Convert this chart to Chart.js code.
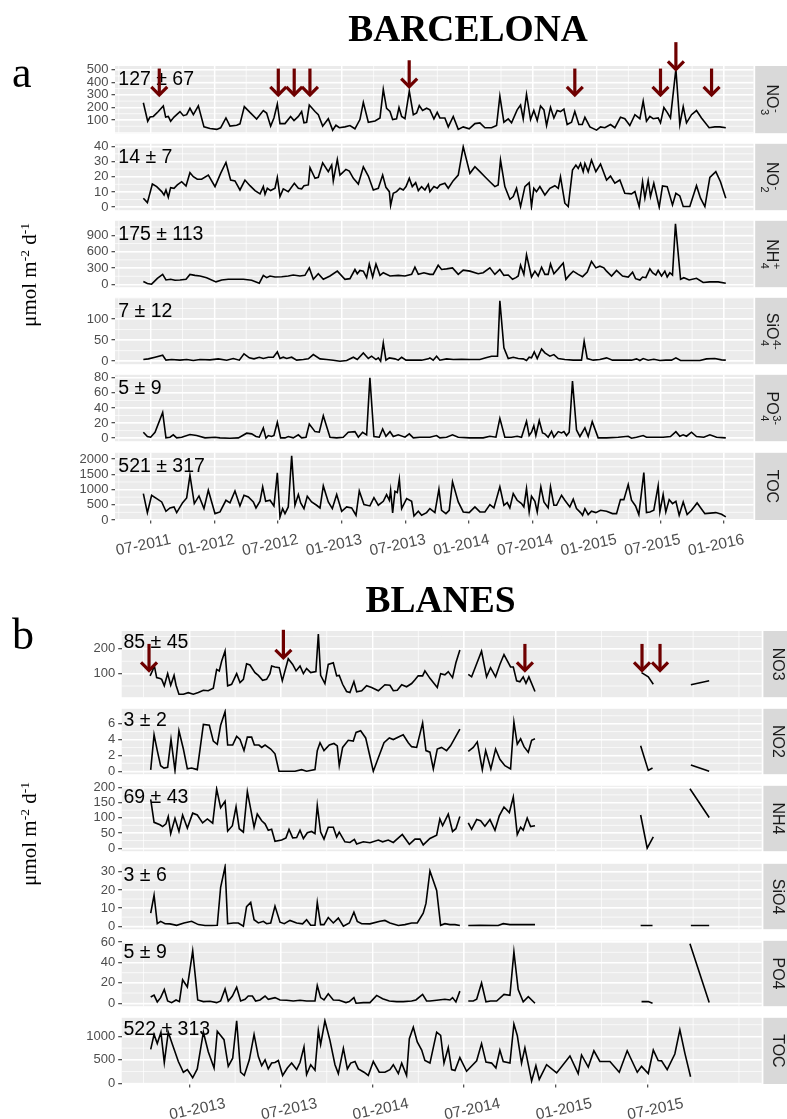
<!DOCTYPE html>
<html>
<head>
<meta charset="utf-8">
<script src="https://cdn.jsdelivr.net/npm/chart.js@4.4.0/dist/chart.umd.min.js"></script>
<style>
  body { margin: 0; background: #fff; width: 787px; height: 1119px; position: relative; overflow: hidden; }
  .panel { position: absolute; left: 0; width: 787px; }
  .panel canvas { display: block; }
  .title { position: absolute; transform: translateX(-50%); font: bold 37.5px/1 'Liberation Serif', 'Times New Roman', serif; color: #000; white-space: nowrap; }
  .tag { position: absolute; font: 44px/1 'Liberation Serif', 'Times New Roman', serif; color: #000; }
  .ytitle { position: absolute; transform: translate(-50%, -50%) rotate(-90deg); font: 21px/1 'Liberation Serif', 'Times New Roman', serif; color: #000; white-space: nowrap; }
  .ytitle sup { font-size: 13.5px; vertical-align: 7px; line-height: 0; }
</style>
</head>
<body>
<script>
// Weekly/biweekly nutrient deposition fluxes, umol m-2 d-1
// x values are months counted from January 2011 (6 = July 2011)

const FONT = "'Liberation Sans', Arial, Helvetica, sans-serif";

const bcnMonthTicks = [6, 12, 18, 24, 30, 36, 42, 48, 54, 60];
const bcnMonthLabels = ['07-2011', '01-2012', '07-2012', '01-2013', '07-2013', '01-2014', '07-2014', '01-2015', '07-2015', '01-2016'];
const blnMonthTicks = [24, 30, 36, 42, 48, 54];
const blnMonthLabels = ['01-2013', '07-2013', '01-2014', '07-2014', '01-2015', '07-2015'];

// ---- Barcelona ----
const bcnNo3 = [
  [5.31,237],[5.72,90],[5.94,123],[6.25,128],[6.72,167],[7.19,212],[7.41,123],[7.66,128],[7.88,90],[8.20,123],
  [8.76,167],[9.08,134],[9.39,142],[9.70,193],[10.02,142],[10.49,212],[11.02,45],[11.59,32],[12.22,25],[12.59,38],
  [13.09,116],[13.47,51],[14.10,58],[14.41,69],[14.82,206],[15.35,160],[15.98,108],[16.61,175],[16.92,155],[17.30,51],
  [17.61,116],[17.93,227],[18.18,71],[18.65,71],[19.18,128],[19.50,95],[19.91,128],[20.22,167],[20.44,77],[20.69,82],
  [20.94,219],[21.48,167],[21.79,142],[22.20,51],[22.73,110],[23.14,19],[23.45,58],[23.77,38],[24.30,45],[24.77,56],
  [25.24,30],[25.71,103],[26.03,240],[26.50,82],[27.13,92],[27.60,116],[27.91,344],[28.22,193],[28.54,167],[28.79,103],
  [29.16,110],[29.39,199],[29.64,128],[29.95,110],[30.36,329],[30.74,142],[31.05,155],[31.30,214],[31.61,175],[31.99,193],
  [32.30,180],[32.68,108],[32.99,160],[33.24,116],[33.71,116],[34.03,45],[34.50,128],[34.97,25],[35.44,45],[36.00,30],
  [36.54,71],[37.01,77],[37.48,38],[38.11,38],[38.58,56],[38.89,290],[39.27,82],[39.68,108],[39.99,77],[40.52,180],
  [40.84,219],[41.09,108],[41.40,305],[41.78,103],[42.09,175],[42.41,95],[42.72,212],[43.04,180],[43.29,56],[43.66,201],
  [43.98,116],[44.29,175],[44.60,167],[44.92,186],[45.23,64],[45.64,82],[45.95,167],[46.33,64],[46.65,64],[46.90,121],
  [47.37,45],[48.00,19],[48.37,45],[48.78,38],[49.31,64],[49.72,38],[50.25,121],[50.66,110],[51.13,56],[51.61,142],
  [52.08,110],[52.39,250],[52.70,90],[53.02,128],[53.33,110],[53.80,116],[54.02,77],[54.34,199],[54.65,160],[54.96,116],
  [55.47,505],[55.84,64],[56.16,206],[56.47,77],[56.94,142],[57.41,175],[57.88,116],[58.60,38],[59.14,45],[59.61,45],[60.17,38]
];
const bcnNo2 = [
  [5.31,5.9],[5.69,3.0],[6.16,15.2],[6.57,13.5],[7.04,10.2],[7.26,8.0],[7.44,11.3],[7.66,6.5],[7.88,12.8],[8.20,12.4],
  [8.51,14.6],[8.92,16.7],[9.33,13.9],[9.70,22.6],[10.02,20.0],[10.39,18.3],[10.80,18.3],[11.43,21.1],[12.06,13.5],[12.59,22.2],
  [13.09,29.3],[13.53,17.8],[13.94,17.2],[14.41,11.3],[14.88,17.8],[15.35,14.1],[15.83,10.9],[16.30,8.7],[16.61,13.5],[16.77,8.5],
  [16.99,12.4],[17.30,10.9],[17.71,12.4],[17.93,19.6],[18.18,7.0],[18.49,12.0],[18.96,10.2],[19.53,15.7],[19.91,12.4],[20.22,12.0],
  [20.44,14.1],[20.85,14.6],[21.01,25.9],[21.48,18.9],[21.79,19.6],[22.20,29.1],[22.73,23.3],[23.05,27.6],[23.20,17.2],[23.58,31.3],
  [23.83,21.1],[24.39,24.8],[24.71,23.7],[25.09,18.9],[25.56,15.2],[26.03,26.5],[26.50,20.4],[26.97,11.3],[27.44,12.4],[27.85,21.1],
  [28.16,13.0],[28.48,10.2],[28.60,1.1],[28.85,9.1],[29.16,10.2],[29.48,12.4],[29.79,11.3],[30.05,13.5],[30.36,18.9],[30.64,13.5],
  [30.96,16.1],[31.21,10.9],[31.52,13.5],[31.83,11.3],[32.15,15.0],[32.30,10.2],[32.68,13.5],[32.99,12.4],[33.24,14.6],[33.71,15.7],
  [34.03,12.4],[34.50,17.4],[34.97,21.1],[35.44,39.6],[36.07,22.2],[36.54,26.5],[37.01,23.3],[37.48,20.0],[37.95,16.7],[38.42,13.5],
  [38.73,14.6],[38.95,30.9],[39.36,13.5],[39.83,5.2],[40.15,7.0],[40.46,12.4],[40.84,0.4],[41.25,13.5],[41.65,16.1],[41.87,0.4],
  [42.09,12.4],[42.34,10.2],[42.66,13.5],[43.13,8.0],[43.60,12.4],[44.07,14.1],[44.39,12.4],[44.60,20.0],[45.01,2.6],[45.33,0.4],
  [45.73,24.3],[46.05,27.6],[46.27,25.4],[46.49,28.7],[46.74,23.3],[46.90,28.7],[47.21,23.3],[47.52,30.9],[47.93,23.3],[48.37,28.3],
  [48.94,17.8],[49.31,20.4],[49.72,15.7],[50.19,17.8],[50.66,9.1],[51.29,8.7],[51.61,10.2],[52.01,0.4],[52.33,16.7],[52.55,5.9],
  [52.86,17.4],[53.08,7.0],[53.39,15.7],[53.90,0],[54.21,13.9],[54.65,13.5],[55.15,1.5],[55.47,9.1],[55.84,7.4],[56.16,0.4],
  [56.78,0.4],[57.41,14.1],[57.79,5.9],[58.20,0.4],[58.67,19.6],[59.23,23.3],[59.67,16.7],[60.17,5.9]
];
const bcnNh4 = [
  [5.31,54],[5.69,18],[6.09,6],[6.63,113],[7.13,185],[7.44,83],[7.88,95],[8.29,77],[8.76,83],[9.33,95],
  [9.70,185],[10.17,167],[10.65,155],[11.27,125],[12.15,48],[12.69,83],[13.31,95],[13.94,95],[14.73,95],[15.51,77],
  [16.23,24],[16.61,167],[16.92,125],[17.24,155],[17.71,137],[18.34,143],[18.96,155],[19.43,173],[20.06,155],[20.53,167],
  [20.94,304],[21.32,95],[21.79,197],[22.26,95],[22.89,155],[23.58,244],[24.30,95],[24.77,107],[25.24,274],[25.46,197],
  [25.71,256],[26.03,244],[26.34,125],[26.59,375],[26.91,137],[27.22,375],[27.60,167],[27.91,215],[28.54,155],[29.32,167],
  [29.95,155],[30.58,185],[30.89,316],[31.21,185],[31.74,215],[32.30,185],[32.61,185],[33.08,352],[33.40,274],[33.87,286],
  [34.43,304],[34.97,185],[35.44,262],[36.07,244],[36.85,197],[37.32,215],[37.95,304],[38.42,185],[38.89,274],[39.27,167],
  [39.68,173],[40.08,95],[40.40,125],[40.62,155],[40.84,352],[41.15,185],[41.40,542],[41.87,137],[42.19,244],[42.50,155],
  [42.82,316],[43.13,185],[43.44,185],[43.66,375],[43.98,197],[44.39,286],[44.86,393],[45.11,95],[45.42,167],[45.80,244],
  [46.27,185],[46.68,143],[47.12,226],[47.52,423],[47.93,304],[48.31,334],[48.69,304],[48.94,244],[49.41,155],[49.88,256],
  [50.44,155],[50.98,137],[51.39,226],[51.67,107],[52.08,83],[52.33,137],[52.64,125],[53.02,286],[53.27,215],[53.58,173],
  [53.80,256],[54.12,155],[54.43,244],[54.65,137],[54.90,215],[55.15,173],[55.43,1109],[55.91,95],[56.22,125],[56.72,83],
  [57.41,113],[58.04,36],[58.67,48],[59.45,48],[60.17,24]
];
const bcnSio4 = [
  [5.31,3.9],[5.78,5.5],[6.41,9.4],[7.13,14.2],[7.44,2.4],[7.98,3.9],[8.76,2.4],[9.39,3.9],[10.02,1.6],[10.65,3.9],
  [11.59,3.1],[12.37,5.5],[13.16,2.4],[13.78,6.3],[14.35,2.4],[14.79,17.3],[15.29,7.9],[15.73,5.5],[16.23,9.4],[16.61,6.3],
  [17.08,9.4],[17.55,9.4],[17.93,22.0],[18.18,6.3],[18.49,9.4],[18.81,6.3],[19.28,9.4],[19.75,2.4],[20.38,3.9],[20.85,5.5],
  [21.32,15.7],[21.95,5.5],[22.57,3.9],[23.20,2.4],[23.83,0],[24.46,1.6],[25.09,9.4],[25.46,3.9],[26.03,19.7],[26.50,6.3],
  [26.81,11.8],[27.22,3.9],[27.44,7.9],[27.66,0],[27.91,43.3],[28.16,2.4],[28.48,7.9],[29.01,5.5],[29.32,2.4],[29.64,9.4],
  [30.05,2.4],[30.74,2.4],[31.52,2.4],[32.15,5.5],[32.30,7.9],[32.61,2.4],[32.93,11.8],[33.24,2.4],[33.87,5.5],[34.50,3.9],
  [35.28,4.7],[36.07,3.9],[37.01,3.9],[37.57,7.9],[38.11,11.8],[38.67,11.8],[38.89,143.2],[39.27,31.5],[39.68,6.3],[40.15,9.4],
  [40.62,6.3],[41.09,5.5],[41.40,1.6],[41.65,9.4],[41.87,7.9],[42.13,22.0],[42.41,6.3],[42.82,29.1],[43.13,19.7],[43.60,11.8],
  [43.98,15.7],[44.39,6.3],[45.01,3.9],[45.80,2.4],[46.58,2.4],[46.83,47.2],[47.12,6.3],[47.68,2.4],[48.31,3.9],[48.94,7.9],
  [49.50,2.4],[50.35,2.4],[51.29,2.4],[51.76,5.5],[52.08,1.6],[52.39,6.3],[52.86,2.4],[53.39,4.7],[53.96,1.6],[54.52,2.4],
  [55.06,2.4],[55.47,7.9],[55.91,1.6],[56.78,1.6],[57.73,1.6],[58.35,5.5],[59.14,6.3],[59.77,3.1],[60.17,2.4]
];
const bcnPo4 = [
  [5.31,7.9],[5.69,2.2],[6.00,1.3],[6.41,7.9],[7.13,34.1],[7.44,0.4],[7.82,1.3],[8.13,4.4],[8.45,0.4],[8.92,1.3],
  [9.70,4.8],[10.33,3.5],[11.12,0.4],[12.06,1.3],[12.53,0.4],[13.47,0],[14.26,0.4],[15.04,6.6],[15.51,5.7],[15.92,2.2],
  [16.23,1.3],[16.61,13.6],[16.86,0],[17.08,3.5],[17.39,2.2],[17.61,3.5],[17.93,21.0],[18.24,0.4],[18.65,0.4],[18.96,2.2],
  [19.43,0.4],[19.91,4.4],[20.22,0.4],[20.63,1.3],[20.94,18.8],[21.48,8.7],[21.88,7.9],[22.26,29.7],[22.89,1.3],[23.52,0.4],
  [24.14,1.3],[24.61,7.9],[25.24,8.7],[25.56,1.3],[25.96,7.9],[26.34,4.4],[26.65,80],[27.03,2.2],[27.53,1.3],[27.85,12.2],
  [28.16,2.6],[28.54,8.7],[28.85,2.2],[29.32,4.4],[29.95,1.3],[30.36,5.7],[30.74,0.4],[31.36,1.3],[32.30,1.3],[32.93,3.5],
  [33.24,0.4],[33.87,1.3],[34.43,4.4],[34.97,1.3],[36.07,0.4],[37.32,0.4],[37.95,2.6],[38.52,1.3],[38.89,26.2],[39.36,1.3],
  [39.99,1.3],[40.52,2.6],[40.93,1.3],[41.40,22.3],[41.65,3.5],[41.87,7.9],[42.09,16.6],[42.28,3.5],[42.60,23.2],[42.91,7.0],
  [43.13,5.7],[43.44,1.3],[43.76,9.2],[43.98,1.3],[44.39,8.7],[44.70,7.0],[44.92,8.7],[45.17,3.5],[45.42,7.9],[45.73,75.6],
  [46.11,10.9],[46.43,2.2],[46.90,13.6],[47.21,2.2],[47.59,21.9],[48.15,0.4],[48.94,0.4],[50.04,1.3],[50.98,2.6],[51.29,0],
  [51.76,1.3],[52.39,3.5],[52.70,1.3],[53.33,1.3],[54.27,1.3],[54.96,2.2],[55.47,8.7],[55.84,2.6],[56.16,4.4],[56.47,2.6],
  [56.94,7.9],[57.41,2.2],[58.10,1.3],[58.67,4.4],[59.30,1.3],[60.17,0.4]
];
const bcnToc = [
  [5.31,868],[5.69,242],[6.09,813],[6.57,703],[7.04,593],[7.44,286],[7.82,396],[8.20,429],[8.45,242],[9.01,571],
  [9.39,725],[9.70,1473],[10.11,539],[10.55,791],[11.02,374],[11.43,978],[12.06,209],[12.53,264],[13.09,648],[13.47,561],
  [13.94,956],[14.41,462],[14.79,813],[15.20,758],[15.67,593],[15.92,396],[16.30,615],[16.55,1088],[16.83,615],[17.24,648],
  [17.61,462],[17.93,1550],[18.18,99],[18.43,374],[18.65,209],[18.96,429],[19.28,2110],[19.59,484],[19.91,835],[20.13,561],
  [20.44,374],[20.75,780],[21.16,593],[21.63,484],[21.95,396],[22.26,1121],[22.73,593],[23.11,374],[23.52,835],[23.99,286],
  [24.46,429],[24.93,396],[25.34,154],[25.65,956],[26.09,505],[26.65,462],[27.03,736],[27.44,484],[27.91,615],[28.22,835],
  [28.48,648],[28.60,978],[28.79,231],[29.01,945],[29.23,901],[29.42,1341],[29.64,374],[30.11,703],[30.58,615],[30.80,132],
  [31.21,286],[31.52,154],[31.99,242],[32.30,374],[32.77,242],[33.15,1011],[33.40,319],[33.81,209],[34.12,319],[34.43,1253],
  [34.97,593],[35.44,264],[36.00,242],[36.54,429],[37.01,264],[37.48,264],[37.95,505],[38.33,396],[38.89,1088],[39.27,484],
  [39.58,571],[39.83,396],[40.15,868],[40.52,648],[40.93,539],[41.15,429],[41.40,1033],[41.65,264],[41.87,780],[42.19,615],
  [42.41,264],[42.75,1088],[43.04,593],[43.44,396],[43.66,1088],[43.98,484],[44.23,484],[44.70,813],[45.01,648],[45.48,429],
  [45.80,681],[46.11,374],[46.49,242],[46.68,154],[46.90,374],[47.21,176],[47.52,286],[47.93,242],[48.37,319],[48.94,286],
  [49.50,209],[49.88,209],[50.25,670],[50.57,670],[50.98,1165],[51.29,648],[51.67,462],[51.98,176],[52.45,1561],[52.70,242],
  [53.02,264],[53.39,319],[53.80,1121],[53.96,264],[54.27,835],[54.52,264],[54.84,670],[55.15,539],[55.47,615],[55.78,154],
  [56.16,593],[56.53,176],[56.94,319],[57.47,561],[58.20,209],[59.23,242],[59.77,187],[60.17,99]
];

const bcnNo3Ticks = [100, 200, 300, 400, 500];
const bcnNo2Ticks = [0, 10, 20, 30, 40];
const bcnNh4Ticks = [0, 300, 600, 900];
const bcnSio4Ticks = [0, 50, 100];
const bcnPo4Ticks = [0, 20, 40, 60, 80];
const bcnTocTicks = [0, 500, 1000, 1500, 2000];

const bcnStats = ['127 \u00b1 67', '14 \u00b1 7', '175 \u00b1 113', '7 \u00b1 12', '5 \u00b1 9', '521 \u00b1 317'];
// [main, subscript, superscript]
const bcnStrips = [['NO', '3', '-'], ['NO', '2', '-'], ['NH', '4', '+'], ['SiO', '4', '4-'], ['PO', '4', '3-'], ['TOC', '', '']];
// [month, arrow start, arrow tip] in NO3 units
const bcnArrows = [
  [6.81, 509, 299], [18.02, 509, 299], [19.52, 509, 299], [21.0, 509, 299], [30.35, 575, 365],
  [45.95, 509, 299], [54.02, 509, 299], [55.47, 719, 502], [58.83, 509, 299]
];

// ---- Blanes (null = no sample) ----
const blnNo3 = [
  [21.43,91],[21.58,111],[21.71,131],[21.86,84],[22.08,80],[22.19,77],[22.36,51],[22.58,100],[22.78,53],[23.00,93],
  [23.13,53],[23.32,17],[23.61,17],[23.93,23],[24.26,17],[24.59,24],[24.92,33],[25.24,31],[25.57,41],[25.79,117],
  [25.96,111],[26.12,151],[26.34,191],[26.51,51],[26.77,57],[27.10,100],[27.32,64],[27.54,77],[27.75,140],[27.97,135],
  [28.30,104],[28.52,93],[28.80,73],[29.06,77],[29.28,100],[29.39,131],[29.61,127],[29.89,124],[30.09,71],[30.48,160],
  [30.77,137],[30.99,111],[31.25,131],[31.47,100],[31.68,121],[31.95,104],[32.29,108],[32.45,260],[32.60,93],[32.88,60],
  [33.10,137],[33.43,144],[33.65,91],[33.82,93],[34.04,57],[34.30,28],[34.52,24],[34.78,68],[34.96,27],[35.29,31],
  [35.61,51],[35.94,44],[36.38,31],[36.81,55],[37.14,53],[37.36,31],[37.62,33],[37.91,55],[38.23,47],[38.56,60],
  [38.78,75],[38.99,91],[39.28,91],[39.43,111],[39.76,81],[39.98,64],[40.24,44],[40.46,100],[40.74,95],[40.96,108],
  [41.24,84],[41.46,144],[41.72,195],[42.0,null],[42.27,97],[42.49,87],[42.82,140],[43.14,191],[43.47,87],[43.73,124],
  [44.06,87],[44.34,137],[44.61,177],[45.04,127],[45.22,127],[45.44,71],[45.65,67],[45.87,87],[46.05,61],[46.24,87],
  [46.64,28],[50.0,null],[53.62,104],[54.06,87],[54.39,57],[55.5,null],[56.85,55],[58.05,71]
];
const blnNo2 = [
  [21.47,0.17],[21.69,4.6],[21.90,2.6],[22.12,0.7],[22.34,0.4],[22.58,0.5],[22.80,4.0],[23.06,0.1],[23.32,5.1],[23.61,2.8],
  [23.87,0.3],[24.15,0.4],[24.52,0.2],[24.92,5.9],[25.31,5.8],[25.57,3.8],[25.83,3.4],[26.05,5.8],[26.34,7.5],[26.51,3.3],
  [26.84,3.3],[27.10,4.4],[27.32,4.0],[27.58,2.6],[27.80,4.3],[28.08,4.3],[28.26,3.3],[28.56,3.3],[28.74,3.0],[28.96,3.3],
  [29.33,2.8],[29.61,2.2],[29.87,0],[30.37,0],[30.92,0],[31.36,0.2],[31.68,0],[32.23,0.2],[32.38,2.6],[32.56,3.6],
  [32.82,2.6],[33.17,3.3],[33.47,3.5],[33.69,3.2],[33.82,0.7],[34.04,3.0],[34.41,3.9],[34.74,3.8],[34.92,4.9],[35.22,5.1],
  [35.55,4.2],[35.79,2.2],[36.05,0],[36.38,1.7],[36.75,3.6],[37.10,4.2],[37.36,4.0],[37.80,4.4],[38.01,4.6],[38.34,3.6],
  [38.56,3.1],[38.89,3.0],[39.28,6.1],[39.50,2.6],[39.76,2.4],[39.98,0.3],[40.24,2.8],[40.52,3.0],[40.85,2.6],[41.11,3.2],
  [41.40,4.2],[41.72,5.3],[42.0,null],[42.27,2.5],[42.60,3.0],[42.86,3.7],[43.19,0.2],[43.41,2.6],[43.75,0.3],[44.06,2.8],
  [44.34,1.5],[44.67,0.7],[45.04,0.3],[45.26,6.2],[45.48,3.4],[45.70,4.1],[45.92,3.1],[46.20,2.4],[46.42,3.9],[46.64,4.1],
  [50.0,null],[53.56,3.2],[54.06,0.1],[54.34,0.4],[55.5,null],[56.85,0.8],[58.05,0]
];
const blnNh4 = [
  [21.47,160],[21.69,85],[22.08,77],[22.25,71],[22.47,80],[22.62,104],[22.78,48],[23.06,98],[23.32,55],[23.56,109],
  [23.87,66],[24.22,115],[24.52,109],[24.87,83],[25.18,96],[25.53,82],[25.79,194],[26.05,133],[26.34,154],[26.51,56],
  [26.82,74],[27.06,136],[27.27,64],[27.54,53],[27.80,186],[28.02,128],[28.24,69],[28.45,112],[28.74,90],[28.96,80],
  [29.17,59],[29.39,62],[29.61,23],[30.05,27],[30.33,34],[30.53,62],[30.77,34],[31.03,35],[31.25,59],[31.47,32],
  [31.73,51],[32.01,55],[32.23,48],[32.38,140],[32.60,53],[32.82,30],[33.10,69],[33.43,69],[33.65,37],[33.82,53],
  [34.19,21],[34.52,19],[34.81,29],[34.96,14],[35.40,21],[35.83,18],[36.38,27],[36.66,21],[37.03,27],[37.36,19],
  [37.95,45],[38.41,13],[38.78,30],[39.11,30],[39.32,11],[39.76,32],[40.20,43],[40.41,96],[40.59,74],[40.96,112],
  [41.24,55],[41.46,64],[41.72,104],[42.0,null],[42.27,83],[42.49,62],[42.82,94],[43.08,90],[43.36,72],[43.69,94],
  [44.02,59],[44.30,106],[44.61,135],[44.96,117],[45.22,168],[45.48,45],[45.70,69],[45.87,59],[46.13,99],[46.35,71],
  [46.64,74],[50.0,null],[53.56,109],[53.99,0],[54.39,37],[55.5,null],[56.79,195],[58.05,101]
];
const blnSio4 = [
  [21.47,7.2],[21.69,17.1],[21.90,1.4],[22.12,2.7],[22.41,1.4],[22.73,1.3],[23.17,0.5],[23.65,1.8],[24.15,2.7],[24.59,0.9],
  [25.03,0.4],[25.46,0.4],[25.83,0.5],[26.05,21.5],[26.34,32.8],[26.51,1.4],[26.88,1.8],[27.21,1.8],[27.54,0],[27.75,10.8],
  [28.02,13.1],[28.24,3.6],[28.52,1.8],[28.85,2.7],[29.06,1.4],[29.33,1.8],[29.61,11.1],[29.94,2.2],[30.22,1.4],[30.59,3.2],
  [31.03,1.8],[31.42,1.3],[31.68,3.6],[31.95,0.5],[32.23,0.5],[32.38,13.1],[32.60,0.9],[32.82,0.9],[33.10,4.8],[33.43,1.8],
  [33.76,4.5],[34.09,0],[34.48,1.8],[34.78,7.7],[35.00,2.7],[35.29,1.4],[35.83,1.3],[36.49,2.7],[36.81,3.2],[37.14,1.8],
  [37.69,0.4],[38.12,0.9],[38.56,1.8],[38.93,1.8],[39.32,7.2],[39.50,12.6],[39.76,30.5],[40.20,19.7],[40.46,0.5],[40.74,1.4],
  [41.07,0.9],[41.40,0.9],[41.72,0.4],[42.0,null],[42.27,0.4],[43.03,0.5],[44.23,0.4],[44.56,1.4],[45.00,0.9],[45.87,0.9],
  [46.64,0.9],[50.0,null],[53.56,0.4],[54.34,0.4],[55.5,null],[56.85,0.4],[58.05,0.4]
];
const blnPo4 = [
  [21.47,6.1],[21.69,8.0],[21.90,1.3],[22.12,5.5],[22.36,13.5],[22.58,2.2],[22.84,0.6],[23.13,3.2],[23.35,1.6],[23.56,23.1],
  [23.87,16.0],[24.22,51.4],[24.55,3.2],[24.92,1.6],[25.35,1.9],[25.79,0.6],[26.05,2.2],[26.34,14.1],[26.55,2.2],[26.82,7.1],
  [27.10,15.7],[27.36,2.2],[27.65,3.9],[27.86,7.1],[28.13,7.1],[28.34,2.2],[28.63,3.2],[28.96,7.1],[29.17,3.9],[29.61,5.5],
  [29.94,3.2],[30.37,2.9],[30.81,2.2],[31.25,2.9],[31.68,2.2],[32.23,2.2],[32.38,17.3],[32.60,5.5],[32.82,3.2],[33.10,9.3],
  [33.43,3.2],[33.82,2.9],[34.26,0.6],[34.48,1.6],[34.78,5.5],[34.92,0],[35.40,0.6],[35.83,0.6],[36.27,7.7],[36.66,4.5],
  [37.10,2.2],[37.58,1.6],[38.01,1.6],[38.56,2.2],[38.84,3.2],[39.28,8.7],[39.54,2.2],[39.76,2.2],[40.20,2.9],[40.74,3.9],
  [41.07,3.2],[41.24,5.5],[41.46,1.3],[41.72,11.9],[42.0,null],[42.27,2.2],[42.60,2.2],[42.82,3.9],[43.14,19.9],[43.43,1.3],
  [43.73,2.2],[44.13,2.2],[44.61,8.7],[45.00,7.7],[45.26,50.4],[45.54,13.5],[45.87,1.3],[46.20,6.4],[46.64,0],[50.0,null],
  [53.62,1.6],[54.06,1.6],[54.34,0],[55.5,null],[56.79,58.4],[58.05,0.6]
];
const blnToc = [
  [21.47,722],[21.69,1042],[21.90,847],[22.14,1090],[22.36,444],[22.62,1090],[22.91,812],[23.28,465],[23.61,236],[23.87,292],
  [24.22,118],[24.52,306],[24.92,1090],[25.24,674],[25.62,326],[25.83,1111],[26.27,931],[26.55,361],[26.84,535],[27.10,1333],
  [27.36,236],[27.60,167],[27.93,500],[28.24,1042],[28.52,569],[28.74,375],[28.96,500],[29.17,306],[29.39,431],[29.61,444],
  [29.83,486],[30.11,167],[30.42,326],[30.70,431],[31.03,292],[31.25,444],[31.51,778],[31.68,188],[31.95,396],[32.23,278],
  [32.45,1125],[32.60,826],[32.88,1333],[33.21,917],[33.54,396],[33.76,208],[34.09,743],[34.35,306],[34.57,431],[34.85,465],
  [35.07,306],[35.44,236],[35.72,167],[36.05,465],[36.44,236],[36.81,236],[37.14,292],[37.36,396],[37.69,208],[37.91,431],
  [38.23,167],[38.41,951],[38.67,1194],[38.93,882],[39.22,708],[39.43,486],[39.76,431],[40.20,1090],[40.46,1021],[40.68,431],
  [40.96,764],[41.18,292],[41.40,271],[41.72,549],[42.16,257],[42.82,479],[43.14,847],[43.43,451],[43.80,431],[44.08,326],
  [44.34,708],[44.56,465],[45.00,431],[45.26,1264],[45.48,1021],[45.76,431],[45.98,757],[46.27,292],[46.42,49],[46.70,375],
  [46.92,83],[47.40,396],[48.06,222],[48.93,583],[49.47,208],[49.69,604],[50.13,347],[50.50,694],[50.89,465],[51.55,465],
  [52.16,236],[52.68,694],[53.34,236],[53.62,361],[54.06,208],[54.39,708],[54.71,486],[54.93,479],[55.30,292],[55.80,625],
  [56.13,1139],[56.46,639],[56.83,139]
];

const blnNo3Ticks = [100, 200];
const blnNo2Ticks = [0, 2, 4, 6];
const blnNh4Ticks = [0, 50, 100, 150, 200];
const blnSio4Ticks = [0, 10, 20, 30];
const blnPo4Ticks = [0, 20, 40, 60];
const blnTocTicks = [0, 500, 1000];

const blnStats = ['85 \u00b1 45', '3 \u00b1 2', '69 \u00b1 43', '3 \u00b1 6', '5 \u00b1 9', '522 \u00b1 313'];
const blnStrips = [['NO3'], ['NO2'], ['NH4'], ['SiO4'], ['PO4'], ['TOC']];
const blnArrows = [[21.36, 220, 113], [30.16, 277, 164], [45.98, 220, 113], [53.65, 220, 113], [54.83, 220, 113]];

// page layout of the two facet columns
const cities = [
  {
    left: 115, right: 753.5, top: 66, step: 77.1, h: 68, stripW: 32, statDx: 3.3, statDy: 19.3, labelShift: 20,
    xMin: 2.64, xMax: 62.78, xTicks: bcnMonthTicks, xLabels: bcnMonthLabels, arrows: bcnArrows,
    series: [bcnNo3, bcnNo2, bcnNh4, bcnSio4, bcnPo4, bcnToc],
    yTicks: [bcnNo3Ticks, bcnNo2Ticks, bcnNh4Ticks, bcnSio4Ticks, bcnPo4Ticks, bcnTocTicks],
    stats: bcnStats, strips: bcnStrips
  },
  {
    left: 121.7, right: 761.7, top: 631, step: 77.2, h: 67, stripW: 29, statDx: 1.8, statDy: 17.3, labelShift: 36,
    xMin: 19.57, xMax: 61.49, xTicks: blnMonthTicks, xLabels: blnMonthLabels, arrows: blnArrows,
    series: [blnNo3, blnNo2, blnNh4, blnSio4, blnPo4, blnToc],
    yTicks: [blnNo3Ticks, blnNo2Ticks, blnNh4Ticks, blnSio4Ticks, blnPo4Ticks, blnTocTicks],
    stats: blnStats, strips: blnStrips
  }
];

// ggplot-style minor breaks: halfway between majors, one step past each end
function minorBreaks(major, lo, hi) {
  const out = [];
  const d = major[1] - major[0];
  for (let v = major[0] - d; v <= major[major.length - 1] + d + 1e-9; v += d / 2) {
    if (v > lo && v < hi) out.push(v);
  }
  return out;
}

function drawArrow(ctx, x, y0, y1) {
  ctx.beginPath();
  ctx.moveTo(x, y0);
  ctx.lineTo(x, y1);
  ctx.stroke();
  ctx.beginPath();
  ctx.moveTo(x - 8, y1 - 8);
  ctx.lineTo(x, y1);
  ctx.lineTo(x + 8, y1 - 8);
  ctx.stroke();
}

function facetPlugin(city, i) {
  return {
    id: 'facet' + i,
    beforeDraw(chart) {
      const { ctx, chartArea: a, scales: { x, y } } = chart;
      ctx.save();
      ctx.fillStyle = '#EBEBEB';
      ctx.fillRect(a.left, a.top, a.right - a.left, a.bottom - a.top);
      ctx.strokeStyle = '#FFFFFF';
      ctx.lineWidth = 0.7;
      ctx.beginPath();
      minorBreaks(city.xTicks, x.min, x.max).forEach(v => {
        const p = x.getPixelForValue(v);
        ctx.moveTo(p, a.top); ctx.lineTo(p, a.bottom);
      });
      minorBreaks(city.yTicks[i], y.min, y.max).forEach(v => {
        const p = y.getPixelForValue(v);
        ctx.moveTo(a.left, p); ctx.lineTo(a.right, p);
      });
      ctx.stroke();
      ctx.restore();
    },
    afterDatasetsDraw(chart) {
      const { ctx, chartArea: a, scales: { x, y } } = chart;
      ctx.save();
      ctx.fillStyle = '#000';
      ctx.font = `19.5px ${FONT}`;
      ctx.textBaseline = 'alphabetic';
      ctx.fillText(city.stats[i], a.left + city.statDx, a.top + city.statDy);

      if (i === 0) {
        ctx.strokeStyle = '#6E0000';
        ctx.lineWidth = 3.2;
        ctx.lineJoin = 'miter';
        city.arrows.forEach(([m, from, to]) => {
          drawArrow(ctx, x.getPixelForValue(m), y.getPixelForValue(from), y.getPixelForValue(to));
        });
      }

      // facet strip on the right
      const sx = a.right + 1.7;
      ctx.fillStyle = '#D9D9D9';
      ctx.fillRect(sx, a.top, city.stripW, a.bottom - a.top);
      ctx.translate(sx + city.stripW / 2, (a.top + a.bottom) / 2);
      ctx.rotate(Math.PI / 2);
      ctx.fillStyle = '#1A1A1A';
      ctx.textBaseline = 'middle';
      const [main, sub, sup] = city.strips[i];
      ctx.font = `16px ${FONT}`;
      const mw = ctx.measureText(main).width;
      ctx.font = `11px ${FONT}`;
      const ew = Math.max(sub ? ctx.measureText(sub).width : 0, sup ? ctx.measureText(sup).width : 0);
      const x0 = -(mw + ew) / 2;
      ctx.font = `16px ${FONT}`;
      ctx.fillText(main, x0, 0);
      ctx.font = `11px ${FONT}`;
      if (sub) ctx.fillText(sub, x0 + mw + 0.5, 7);
      if (sup) ctx.fillText(sup, x0 + mw + 0.5, -5);
      ctx.restore();
    }
  };
}

function buildCity(city) {
  const n = city.series.length;
  city.series.forEach((rows, i) => {
    const first = i === 0, last = i === n - 1;
    const padTop = first ? 30 : 10;
    const bottomH = last ? 56 : 10;
    const top = Math.round(city.top + i * city.step);

    const vals = rows.map(r => r[1]).filter(v => v !== null);
    const lo = Math.min(...vals), hi = Math.max(...vals);
    const pad = (hi - lo) * 0.05;

    const wrap = document.createElement('div');
    wrap.className = 'panel';
    wrap.style.top = (top - padTop) + 'px';
    const cv = document.createElement('canvas');
    cv.width = 787;
    cv.height = padTop + city.h + bottomH;
    wrap.appendChild(cv);
    document.body.appendChild(wrap);

    const yt = city.yTicks[i];
    new Chart(cv, {
      type: 'line',
      data: {
        datasets: [{
          data: rows.map(r => ({ x: r[0], y: r[1] })),
          borderColor: '#000',
          borderWidth: 1.6,
          pointRadius: 0,
          tension: 0,
          spanGaps: false,
          fill: false
        }]
      },
      options: {
        responsive: false,
        animation: false,
        devicePixelRatio: 1,
        events: [],
        layout: { padding: { top: padTop, left: 0, bottom: 0, right: 787 - city.right } },
        plugins: { legend: { display: false }, tooltip: { enabled: false } },
        scales: {
          x: {
            type: 'linear',
            min: city.xMin,
            max: city.xMax,
            afterBuildTicks: s => { s.ticks = city.xTicks.map(v => ({ value: v })); },
            afterFit: s => { s.height = bottomH; },
            border: { display: false },
            grid: { color: '#FFFFFF', lineWidth: 1.4, drawTicks: last, tickLength: 3.5, tickColor: '#333333', tickWidth: 1.1 },
            ticks: {
              display: last,
              autoSkip: false,
              minRotation: 12,
              maxRotation: 12,
              labelOffset: city.labelShift,
              padding: 7,
              color: '#4D4D4D',
              font: { family: FONT, size: 15.5 },
              callback: v => city.xLabels[city.xTicks.indexOf(v)] || ''
            }
          },
          y: {
            type: 'linear',
            min: lo - pad,
            max: hi + pad,
            afterBuildTicks: s => { s.ticks = yt.map(v => ({ value: v })); },
            afterFit: s => { s.width = city.left; },
            border: { display: false },
            grid: { color: '#FFFFFF', lineWidth: 1.4, tickLength: 3.5, tickColor: '#333333', tickWidth: 1.1 },
            ticks: {
              autoSkip: false,
              padding: 3,
              color: '#4D4D4D',
              font: { family: FONT, size: 13 },
              callback: v => String(v)
            }
          }
        }
      },
      plugins: [facetPlugin(city, i)]
    });
  });
}

cities.forEach(buildCity);
</script>
<div class="title" style="left:468px;top:10px">BARCELONA</div>
<div class="tag" style="left:12px;top:51px">a</div>
<div class="ytitle" style="left:29px;top:275px">μmol m<sup>-2</sup> d<sup>-1</sup></div>
<div class="title" style="left:440.5px;top:580.5px">BLANES</div>
<div class="tag" style="left:12px;top:613px">b</div>
<div class="ytitle" style="left:29px;top:834px">μmol m<sup>-2</sup> d<sup>-1</sup></div>
</body>
</html>
